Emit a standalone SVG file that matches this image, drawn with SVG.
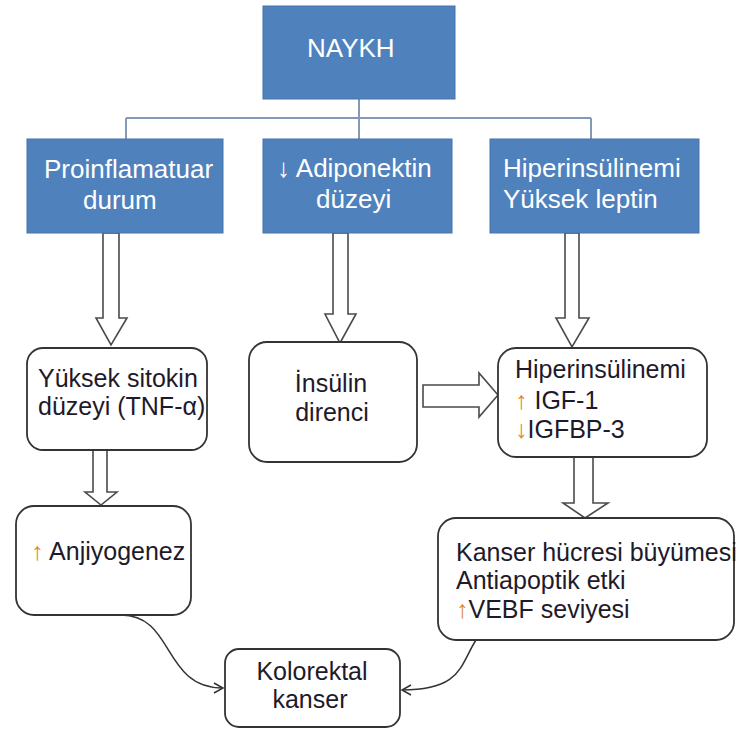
<svg xmlns="http://www.w3.org/2000/svg" width="738" height="731" viewBox="0 0 738 731">
<style>
.top{fill:#4f81bd;stroke:#4674ad;stroke-width:1}
.tw{font-family:"Liberation Sans",Arial,sans-serif;font-size:26px;fill:#ffffff}
.box{fill:#ffffff;stroke:#333333;stroke-width:1.8}
.t{font-family:"Liberation Sans",Arial,sans-serif;font-size:25px;fill:#1e1a2a}
.ar{fill:#e08a30}
.blk{fill:#ffffff;stroke:#4a4a4a;stroke-width:1.6;stroke-linejoin:miter}
.tree{fill:none;stroke:#8299b8;stroke-width:2}
.cur{fill:none;stroke:#333333;stroke-width:1.5}
</style>
<defs>
<marker id="chev" markerWidth="12" markerHeight="12" refX="10" refY="6" orient="auto" markerUnits="userSpaceOnUse">
<path d="M1,1 L10,6 L1,11" fill="none" stroke="#333333" stroke-width="1.5"/>
</marker>
</defs>
<g id="connectors">
<path class="tree" d="M359,99 V139 M126,118 H591 M126,118 V139 M591,118 V139"/>
<polygon class="blk" points="103,233 119,233 119,318 127,318 111,345 96,318 103,318"/>
<polygon class="blk" points="333,233 348,233 348,314 356,314 340,343 325,314 333,314"/>
<polygon class="blk" points="565,233 579,233 579,318 589,318 572,347 556,318 565,318"/>
<polygon class="blk" points="93,450 107,450 107,492 117,492 101,505 85,492 93,492"/>
<polygon class="blk" points="574,457 593,457 593,503 608,503 585,518 563,503 574,503"/>
<polygon class="blk" points="423,385 479,385 479,373 498,395 479,417 479,407 423,407"/>
<path class="cur" d="M121,615 C175,615 162,688 223,688" marker-end="url(#chev)"/>
<path class="cur" d="M476,640 C460,665 462,690 402,690" marker-end="url(#chev)"/>
</g>
<g id="naykh">
<rect class="top" x="263" y="6" width="192" height="93"/>
<text class="tw" x="307" y="57">NAYKH</text>
</g>
<g id="proinflamatuar">
<rect class="top" x="27" y="139" width="196" height="94"/>
<text class="tw" x="44" y="178">Proinflamatuar</text>
<text class="tw" x="83" y="209">durum</text>
</g>
<g id="adiponektin">
<rect class="top" x="263" y="139" width="189" height="94"/>
<text class="tw" x="277" y="177">↓ Adiponektin</text>
<text class="tw" x="316" y="208">düzeyi</text>
</g>
<g id="hiperinsulinemi-top">
<rect class="top" x="490" y="139" width="209" height="94"/>
<text class="tw" x="503" y="177">Hiperinsülinemi</text>
<text class="tw" x="503" y="208">Yüksek leptin</text>
</g>
<g id="sitokin">
<rect class="box" x="27" y="348" width="180" height="102" rx="16"/>
<text class="t" x="38" y="387">Yüksek sitokin</text>
<text class="t" x="38" y="415">düzeyi (TNF-α)</text>
</g>
<g id="insulin">
<rect class="box" x="249" y="342" width="168" height="120" rx="18"/>
<text class="t" x="331" y="392" text-anchor="middle">İnsülin</text>
<text class="t" x="332" y="421" text-anchor="middle">direnci</text>
</g>
<g id="hiperinsulinemi">
<rect class="box" x="498" y="348" width="209" height="109" rx="18"/>
<text class="t" x="515" y="378">Hiperinsülinemi</text>
<text class="t" x="515" y="409"><tspan class="ar">↑</tspan> IGF-1</text>
<text class="t" x="515" y="438"><tspan class="ar">↓</tspan>IGFBP-3</text>
</g>
<g id="anjiyogenez">
<rect class="box" x="16" y="506" width="175" height="109" rx="18"/>
<text class="t" x="31" y="560"><tspan class="ar">↑</tspan> Anjiyogenez</text>
</g>
<g id="kanser">
<rect class="box" x="438" y="518" width="296" height="122" rx="18"/>
<text class="t" x="456" y="561">Kanser hücresi büyümesi</text>
<text class="t" x="456" y="589">Antiapoptik etki</text>
<text class="t" x="456" y="618"><tspan class="ar">↑</tspan>VEBF seviyesi</text>
</g>
<g id="kolorektal">
<rect class="box" x="225" y="649" width="175" height="78" rx="14"/>
<text class="t" x="312" y="680" text-anchor="middle">Kolorektal</text>
<text class="t" x="310" y="708" text-anchor="middle">kanser</text>
</g>
</svg>
